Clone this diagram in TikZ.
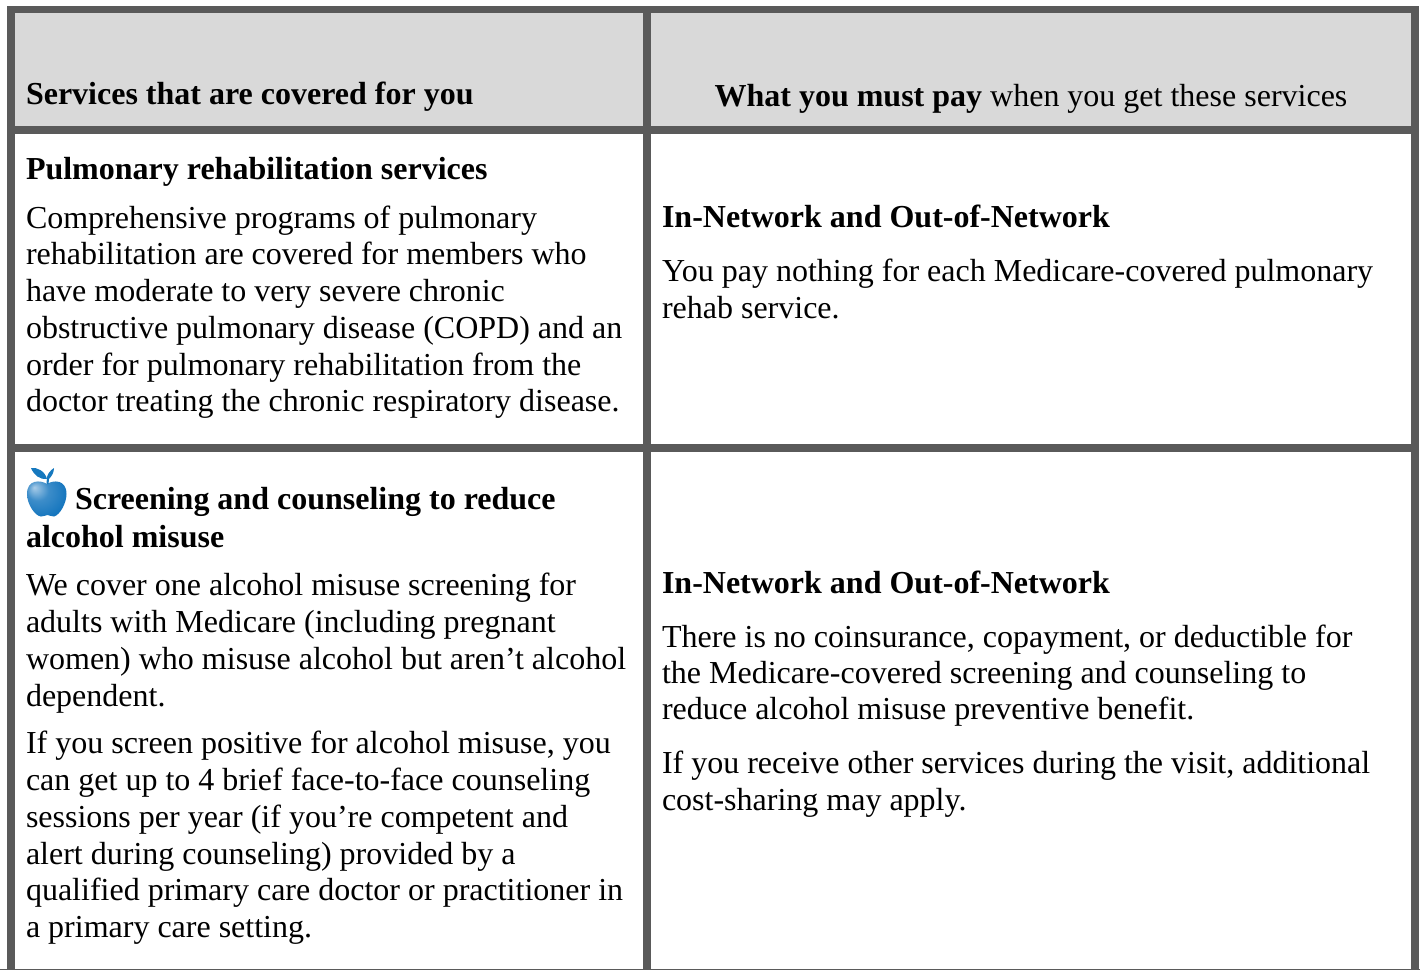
\documentclass[tikz,border=0pt]{standalone}
\usepackage{fontspec}
\setmainfont{Liberation Serif}
\definecolor{barc}{HTML}{5A5A5A}
\definecolor{headc}{HTML}{D9D9D9}
\definecolor{appleb}{HTML}{0F72BC}
\definecolor{appleh}{HTML}{A8CCE8}
\definecolor{leafb}{HTML}{1578BE}
\pgfdeclareradialshading{appleshade}{\pgfpoint{-16bp}{14bp}}{color(0bp)=(appleh); color(14bp)=(appleb!70!appleh); color(34bp)=(appleb); color(50bp)=(appleb)}
\tikzset{
  x=1pt,y=-1pt,
  bar/.style={fill=barc,draw=none},
  line/.style={anchor=base west,inner sep=0pt,outer sep=0pt,font=\fontsize{32}{37}\selectfont},
  head/.style={line,font=\fontsize{32}{37}\selectfont\bfseries},
}
\begin{document}
\begin{tikzpicture}
\useasboundingbox (0,0) rectangle (1420,970);
\fill[white] (0,0) rectangle (1420,970);
\fill[headc] (15,13) rectangle (1411,126);
\fill[bar] (7,6) rectangle (1419,13);
\fill[bar] (7,6) rectangle (15,970);
\fill[bar] (643,6) rectangle (651,970);
\fill[bar] (1411,6) rectangle (1419,970);
\fill[bar] (7,126) rectangle (1419,134);
\fill[bar] (7,444) rectangle (1419,452);
\fill[bar] (0,969) rectangle (1420,970);
% header
\node[head] (h1) at (26,104) {Services that are covered for you};
\node[line,anchor=base] (h2) at (1031,106) {\textbf{What you must pay} when you get these services};
% row 1
\node[head] (a0) at (26,179) {Pulmonary rehabilitation services};
\node[line] (a1) at (26,228) {Comprehensive programs of pulmonary};
\node[line] (a2) at (26,264) {rehabilitation are covered for members who};
\node[line] (a3) at (26,301) {have moderate to very severe chronic};
\node[line] (a4) at (26,338) {obstructive pulmonary disease (COPD) and an};
\node[line] (a5) at (26,375) {order for pulmonary rehabilitation from the};
\node[line] (a6) at (26,411) {doctor treating the chronic respiratory disease.};
\node[head] (b0) at (662,227) {In-Network and Out-of-Network};
\node[line] (b1) at (662,281) {You pay nothing for each Medicare-covered pulmonary};
\node[line] (b2) at (662,318) {rehab service.};
% row 2
\shade[shading=appleshade]
  (47,484) .. controls (41,480) and (27,479) .. (27,494) .. controls (27,504) and (35,516) .. (41,516.5) .. controls (44,516.5) and (46,515) .. (47.5,515)
  .. controls (49,515) and (51,516.5) .. (54,516.5) .. controls (60,515) and (66.5,503) .. (66.5,494) .. controls (66.5,479) and (53,480) .. (47,484) -- cycle;
\fill[leafb] (31,468) .. controls (37,467) and (45,471) .. (47,479) .. controls (40,480) and (34,475) .. (31,468) -- cycle;
\fill[leafb] (47,477) .. controls (48,473) and (51,470) .. (54,468) .. controls (54,472) and (52,476) .. (49,479) -- (48.5,484) -- (46.5,484) -- cycle;
\node[head] (c0) at (75,509) {Screening and counseling to reduce};
\node[head] (c1) at (26,547) {alcohol misuse};
\node[line] (c2) at (26,595) {We cover one alcohol misuse screening for};
\node[line] (c3) at (26,632) {adults with Medicare (including pregnant};
\node[line] (c4) at (26,669) {women) who misuse alcohol but aren’t alcohol};
\node[line] (c5) at (26,706) {dependent.};
\node[line] (c6) at (26,753) {If you screen positive for alcohol misuse, you};
\node[line] (c7) at (26,790) {can get up to 4 brief face-to-face counseling};
\node[line] (c8) at (26,827) {sessions per year (if you’re competent and};
\node[line] (c9) at (26,864) {alert during counseling) provided by a};
\node[line] (c10) at (26,900) {qualified primary care doctor or practitioner in};
\node[line] (c11) at (26,937) {a primary care setting.};
\node[head] (d0) at (662,593) {In-Network and Out-of-Network};
\node[line] (d1) at (662,647) {There is no coinsurance, copayment, or deductible for};
\node[line] (d2) at (662,683) {the Medicare-covered screening and counseling to};
\node[line] (d3) at (662,719) {reduce alcohol misuse preventive benefit.};
\node[line] (d4) at (662,773) {If you receive other services during the visit, additional};
\node[line] (d5) at (662,810) {cost-sharing may apply.};
\end{tikzpicture}
\end{document}
